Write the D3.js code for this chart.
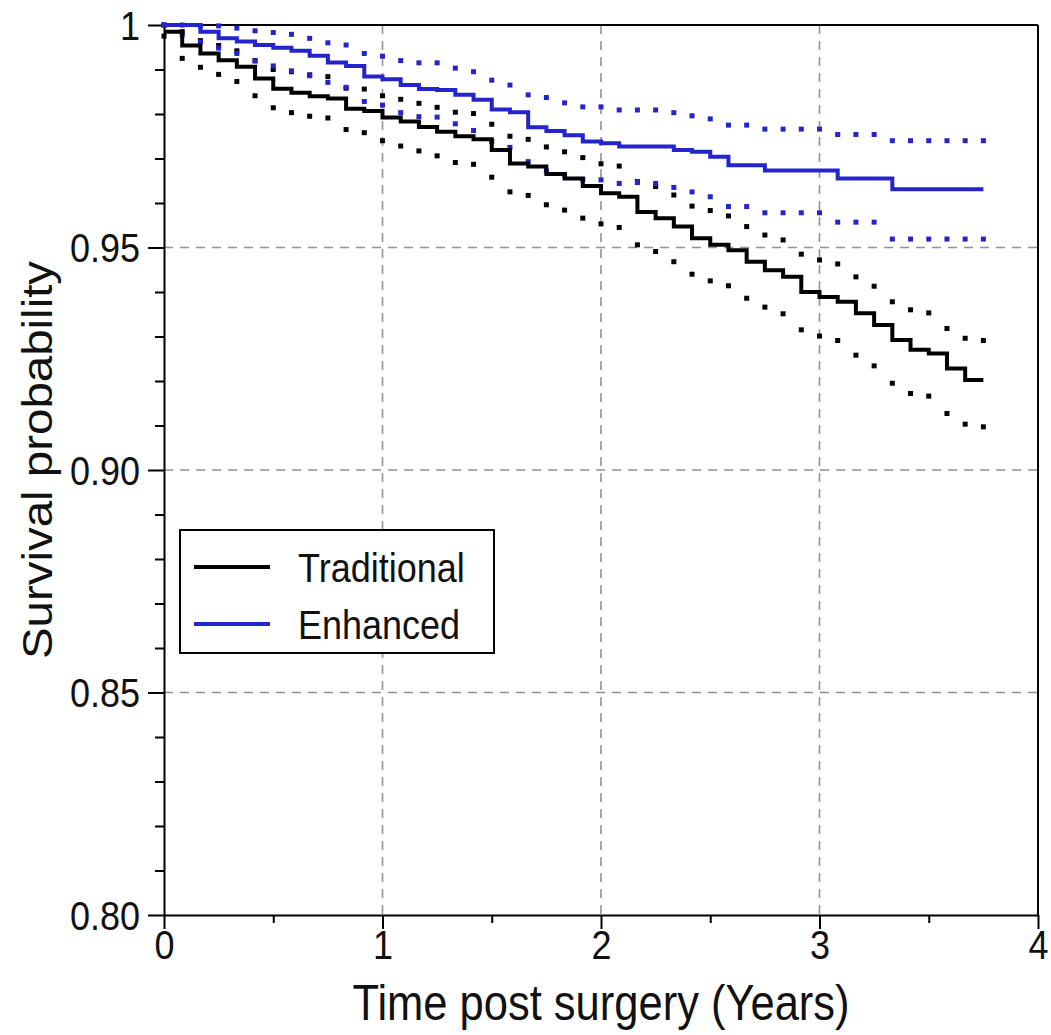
<!DOCTYPE html>
<html>
<head>
<meta charset="utf-8">
<script src="https://cdn.jsdelivr.net/npm/d3@7"></script>
<style>
  html, body { margin: 0; padding: 0; background: #fff; }
  svg { display: block; }
  text { font-family: "Liberation Sans", Arial, Helvetica, sans-serif; fill: #111; }
</style>
</head>
<body>
<svg id="chart" width="1051" height="1035"></svg>
<script>
// ---- data (monthly, months 0..45) ----
const months = d3.range(0, 46);
const seriesNames = ["Traditional", "Enhanced"];
const traditionalSurv = [0.9985,0.9954,0.9936,0.9921,0.9906,0.9880,0.9857,0.9848,0.9840,0.9835,0.9812,0.9807,0.9792,0.9783,0.9771,0.9760,0.9750,0.9743,0.9719,0.9689,0.9682,0.9665,0.9655,0.9638,0.9622,0.9614,0.9580,0.9566,0.9547,0.9521,0.9506,0.9494,0.9468,0.9449,0.9434,0.9400,0.9389,0.9378,0.9352,0.9326,0.9292,0.9270,0.9262,0.9228,0.9202,0.9202];
const traditionalLower = [0.9975,0.9925,0.9905,0.9889,0.9873,0.9841,0.9814,0.9803,0.9795,0.9791,0.9765,0.9758,0.9740,0.9728,0.9717,0.9706,0.9691,0.9687,0.9658,0.9625,0.9617,0.9596,0.9584,0.9566,0.9553,0.9545,0.9506,0.9491,0.9468,0.9440,0.9425,0.9414,0.9386,0.9366,0.9351,0.9315,0.9301,0.9291,0.9258,0.9234,0.9195,0.9172,0.9166,0.9127,0.9103,0.9097];
const traditionalUpper = [1.0000,0.9985,0.9965,0.9954,0.9942,0.9920,0.9900,0.9895,0.9888,0.9884,0.9858,0.9856,0.9841,0.9833,0.9824,0.9815,0.9804,0.9801,0.9777,0.9750,0.9743,0.9726,0.9715,0.9702,0.9688,0.9683,0.9648,0.9637,0.9618,0.9593,0.9583,0.9571,0.9547,0.9528,0.9517,0.9485,0.9472,0.9463,0.9434,0.9413,0.9378,0.9360,0.9353,0.9318,0.9296,0.9291];
const enhancedSurv = [1.0000,1.0000,0.9985,0.9970,0.9963,0.9955,0.9949,0.9942,0.9931,0.9916,0.9908,0.9884,0.9878,0.9865,0.9856,0.9854,0.9843,0.9832,0.9810,0.9804,0.9770,0.9762,0.9752,0.9738,0.9734,0.9727,0.9727,0.9727,0.9719,0.9715,0.9704,0.9685,0.9685,0.9673,0.9673,0.9673,0.9673,0.9655,0.9655,0.9655,0.9631,0.9631,0.9631,0.9631,0.9631,0.9631];
const enhancedUpper = [1.0000,1.0000,0.9998,0.9998,0.9993,0.9987,0.9983,0.9979,0.9970,0.9960,0.9955,0.9936,0.9930,0.9920,0.9915,0.9915,0.9903,0.9895,0.9876,0.9865,0.9843,0.9837,0.9825,0.9816,0.9816,0.9809,0.9809,0.9809,0.9803,0.9796,0.9789,0.9775,0.9775,0.9766,0.9766,0.9766,0.9766,0.9754,0.9754,0.9754,0.9740,0.9740,0.9740,0.9740,0.9740,0.9740];
const enhancedLower = [1.0000,0.9978,0.9962,0.9948,0.9936,0.9919,0.9908,0.9897,0.9886,0.9871,0.9860,0.9828,0.9820,0.9803,0.9794,0.9793,0.9778,0.9763,0.9738,0.9725,0.9693,0.9672,0.9664,0.9653,0.9652,0.9644,0.9646,0.9644,0.9635,0.9625,0.9614,0.9592,0.9592,0.9578,0.9578,0.9578,0.9578,0.9557,0.9557,0.9557,0.9519,0.9519,0.9519,0.9519,0.9519,0.9519];

const xTicks = [0, 1, 2, 3, 4];
const xTickLabels = ["0", "1", "2", "3", "4"];
const xMinorTicks = [0.5, 1.5, 2.5, 3.5];
const yTicks = [0.80, 0.85, 0.90, 0.95, 1.00];
const yTickLabels = ["0.80", "0.85", "0.90", "0.95", "1"];
const yMinorTicks = d3.range(80, 101).map(d => d / 100).filter(d => Math.round(d * 100) % 5 !== 0);
const xGrid = [1, 2, 3];
const yGrid = [0.85, 0.90, 0.95];
const xTitle = "Time post surgery (Years)";
const yTitle = "Survival probability";

// ---- layout ----
const colors = { Traditional: "#000000", Enhanced: "#2424cc" };
const SY = 1.13; // vertical stretch of the original raster text
const L = 164, R = 1038, T = 25, B = 915;

const svg = d3.select("#chart");
const x = d3.scaleLinear().domain([0, 4]).range([L, R]);
const y = d3.scaleLinear().domain([0.8, 1.0]).range([B, T]);

// grid
const grid = svg.append("g");
grid.selectAll("line.gx").data(xGrid).join("line")
  .attr("x1", d => x(d)).attr("x2", d => x(d)).attr("y1", T).attr("y2", B)
  .attr("stroke", "#919191").attr("stroke-width", 1.6).attr("stroke-dasharray", "9,7");
grid.selectAll("line.gy").data(yGrid).join("line")
  .attr("y1", d => y(d)).attr("y2", d => y(d)).attr("x1", L).attr("x2", R)
  .attr("stroke", "#919191").attr("stroke-width", 1.6).attr("stroke-dasharray", "9,7");

// frame (top/right)
svg.append("line").attr("x1", L).attr("x2", R).attr("y1", T).attr("y2", T).attr("stroke", "#000").attr("stroke-width", 2);
svg.append("line").attr("x1", R).attr("x2", R).attr("y1", T).attr("y2", B).attr("stroke", "#000").attr("stroke-width", 2);

// axes
function styleAxis(g) {
  g.select(".domain").attr("stroke", "#000").attr("stroke-width", 2);
  g.selectAll(".tick line").attr("stroke", "#000").attr("stroke-width", 2);
}
const yAxis = svg.append("g").attr("transform", `translate(${L},0)`)
  .call(d3.axisLeft(y).tickValues(yTicks).tickSize(16).tickSizeOuter(0).tickPadding(8)
    .tickFormat((d, i) => yTickLabels[i]));
styleAxis(yAxis);
yAxis.selectAll(".tick text").attr("font-size", 36).attr("font-family", "Liberation Sans, Arial, sans-serif")
  .attr("fill", "#111").attr("dy", null).attr("dominant-baseline", "central")
  .attr("transform", function() { return `translate(${d3.select(this).attr("x")},0) scale(1,${SY})`; })
  .attr("x", 0);
const yMinor = svg.append("g").attr("transform", `translate(${L},0)`)
  .call(d3.axisLeft(y).tickValues(yMinorTicks).tickSize(9).tickSizeOuter(0).tickFormat(""));
styleAxis(yMinor); yMinor.select(".domain").remove();

const xAxis = svg.append("g").attr("transform", `translate(0,${B})`)
  .call(d3.axisBottom(x).tickValues(xTicks).tickSize(14).tickSizeOuter(0).tickPadding(2)
    .tickFormat((d, i) => xTickLabels[i]));
styleAxis(xAxis);
xAxis.selectAll(".tick text").attr("font-size", 36).attr("font-family", "Liberation Sans, Arial, sans-serif")
  .attr("fill", "#111").attr("dy", null).attr("y", 0).attr("dominant-baseline", "hanging")
  .attr("transform", `translate(0,14) scale(1,${SY})`);
const xMinor = svg.append("g").attr("transform", `translate(0,${B})`)
  .call(d3.axisBottom(x).tickValues(xMinorTicks).tickSize(8).tickSizeOuter(0).tickFormat(""));
styleAxis(xMinor); xMinor.select(".domain").remove();

// titles
svg.append("text").attr("text-anchor", "middle").attr("font-size", 43.5)
  .attr("transform", `translate(${(L + R) / 2},1020) scale(1,${SY})`).text(xTitle);
svg.append("text").attr("text-anchor", "middle").attr("font-size", 42)
  .attr("transform", `translate(52,460) scale(1,${SY}) rotate(-90)`).text(yTitle);

// data series
const series = [
  { name: "Traditional", surv: traditionalSurv, lower: traditionalLower, upper: traditionalUpper },
  { name: "Enhanced", surv: enhancedSurv, lower: enhancedLower, upper: enhancedUpper }
];
const stepLine = d3.line().curve(d3.curveStepAfter).x(d => x(d[0] / 12)).y(d => y(d[1]));
const dotSize = 5;
series.forEach(s => {
  const g = svg.append("g");
  [s.upper, s.lower].forEach(arr => {
    g.selectAll(null).data(months.map((m, i) => [m, arr[i]])).join("rect")
      .attr("x", d => x(d[0] / 12) - dotSize / 2).attr("y", d => y(d[1]) - dotSize / 2)
      .attr("width", dotSize).attr("height", dotSize).attr("fill", colors[s.name]);
  });
});
series.forEach(s => {
  svg.append("path").datum(months.map((m, i) => [m, s.surv[i]]))
    .attr("d", stepLine).attr("fill", "none").attr("stroke", colors[s.name])
    .attr("stroke-width", 4).attr("stroke-linejoin", "miter");
});

// legend
const lg = svg.append("g");
lg.append("rect").attr("x", 180).attr("y", 530).attr("width", 314).attr("height", 123)
  .attr("fill", "#fff").attr("stroke", "#000").attr("stroke-width", 2);
seriesNames.forEach((n, i) => {
  const yy = 567 + i * 57;
  lg.append("line").attr("x1", 194).attr("x2", 270).attr("y1", yy).attr("y2", yy)
    .attr("stroke", colors[n]).attr("stroke-width", 4);
  lg.append("text").attr("font-size", 36).attr("dominant-baseline", "central")
    .attr("transform", `translate(298,${yy + 1}) scale(1,${SY})`).text(n);
});
</script>
</body>
</html>
